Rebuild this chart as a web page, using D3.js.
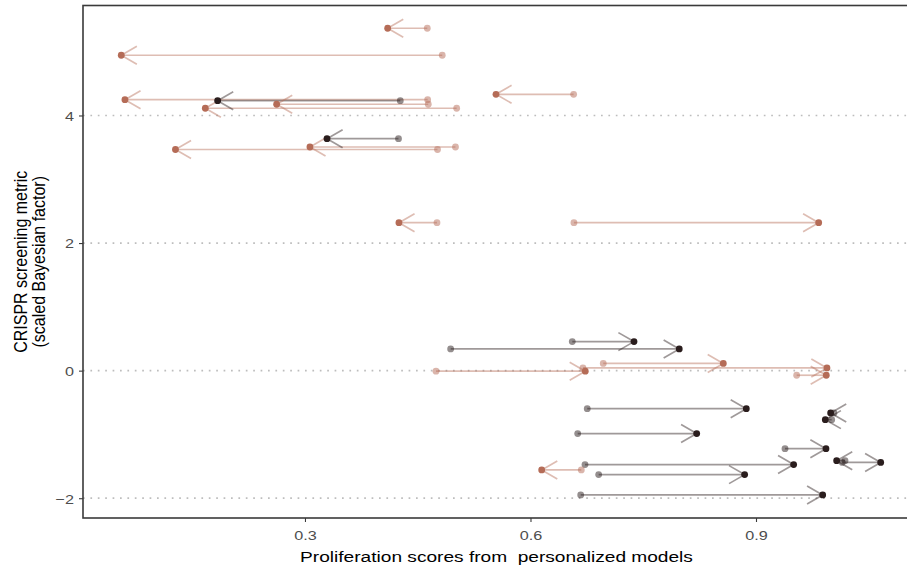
<!DOCTYPE html>
<html>
<head>
<meta charset="utf-8">
<script src="https://cdn.jsdelivr.net/npm/d3@7"></script>
<style>
  body { margin: 0; background: #fff; }
  text { font-family: "Liberation Sans", Arial, sans-serif; }
</style>
</head>
<body>
<div id="chart"></div>
<script>
// proliferation score before (start) and after (end), CRISPR metric, and colour group
var scoreStart = [0.4627, 0.4826, 0.4632, 0.4268, 0.4640, 0.5018, 0.6574, 0.4244, 0.5002, 0.4763,
                  0.4756, 0.6578, 0.6556, 0.4938, 0.4743, 0.6968, 0.6698, 0.9541, 0.6755, 0.6628,
                  1.0037, 1.0007, 0.9386, 0.6725, 1.0148, 1.0184, 0.6676, 0.6907, 0.6668];
var scoreEnd   = [0.4100, 0.0556, 0.0605, 0.1838, 0.2623, 0.1674, 0.5541, 0.3293, 0.3066, 0.1277,
                  0.4250, 0.9834, 0.7377, 0.7979, 0.6729, 0.8565, 0.9944, 0.9935, 0.8871, 0.8211,
                  0.9993, 0.9922, 0.9931, 0.9501, 1.0659, 1.0073, 0.6149, 0.8849, 0.9887];
var crispr     = [5.367, 4.944, 4.248, 4.232, 4.176, 4.113, 4.332, 3.636, 3.506, 3.467,
                  2.320, 2.320, 0.455, 0.340, -0.009, 0.113, 0.042, -0.072, -0.596, -0.987,
                  -0.663, -0.768, -1.223, -1.473, -1.439, -1.411, -1.556, -1.630, -1.948];
var group      = ["b", "b", "b", "k", "b", "b", "b", "k", "b", "b",
                  "b", "b", "k", "k", "b", "b", "b", "b", "k", "k",
                  "k", "k", "k", "k", "k", "k", "b", "k", "k"];
var xTicks = [0.3, 0.6, 0.9];
var yTicks = [-2, 0, 2, 4];

var colors = { b: "#b56c57", k: "#2a1d1d" };

var data = scoreStart.map(function (s, i) {
  return { start: s, end: scoreEnd[i], y: crispr[i], g: group[i] };
});

var W = 907, H = 567,
    margin = { left: 83, top: 5.5, right: -3, bottom: 49 },
    pw = W - margin.left - margin.right,
    ph = H - margin.top - margin.bottom,
    stretch = 1.2;   // text in the reference is drawn a bit wide

var x = d3.scaleLinear().domain([0.0047, 0.0047 + pw / 751.7]).range([0, pw]);
var y = d3.scaleLinear().domain([-2.31, 5.724]).range([ph, 0]);

var svg = d3.select("#chart").append("svg")
    .attr("width", W).attr("height", H);

var g = svg.append("g")
    .attr("transform", "translate(" + margin.left + "," + margin.top + ")");

// dotted horizontal grid
g.selectAll(".grid").data(yTicks).enter().append("line")
    .attr("class", "grid")
    .attr("x1", 0).attr("x2", pw)
    .attr("y1", function (d) { return y(d); })
    .attr("y2", function (d) { return y(d); })
    .attr("stroke", "#bdbdbd")
    .attr("stroke-width", 1.7)
    .attr("stroke-dasharray", "1.7,5.7");

// segments
g.selectAll(".seg").data(data).enter().append("line")
    .attr("class", "seg")
    .attr("x1", function (d) { return x(d.start); })
    .attr("x2", function (d) { return x(d.end); })
    .attr("y1", function (d) { return y(d.y); })
    .attr("y2", function (d) { return y(d.y); })
    .attr("stroke", function (d) { return colors[d.g]; })
    .attr("stroke-opacity", 0.45)
    .attr("stroke-width", 1.7);

// arrow heads
g.selectAll(".head").data(data).enter().append("path")
    .attr("class", "head")
    .attr("d", function (d) {
      var dir = d.end >= d.start ? 1 : -1,
          tx = x(d.end), ty = y(d.y);
      return "M" + (tx - dir * 15.6) + "," + (ty - 9) + "L" + tx + "," + ty +
             "L" + (tx - dir * 15.6) + "," + (ty + 9);
    })
    .attr("fill", "none")
    .attr("stroke", function (d) { return colors[d.g]; })
    .attr("stroke-opacity", 0.45)
    .attr("stroke-width", 1.7);

// start points
g.selectAll(".p0").data(data).enter().append("circle")
    .attr("class", "p0")
    .attr("cx", function (d) { return x(d.start); })
    .attr("cy", function (d) { return y(d.y); })
    .attr("r", 3.4)
    .attr("fill", function (d) { return colors[d.g]; })
    .attr("fill-opacity", 0.5);

// end points
g.selectAll(".p1").data(data).enter().append("circle")
    .attr("class", "p1")
    .attr("cx", function (d) { return x(d.end); })
    .attr("cy", function (d) { return y(d.y); })
    .attr("r", 3.4)
    .attr("fill", function (d) { return colors[d.g]; });

// panel border
g.append("rect")
    .attr("x", 0).attr("y", 0)
    .attr("width", pw).attr("height", ph)
    .attr("fill", "none")
    .attr("stroke", "#3a3a3a")
    .attr("stroke-width", 1.6);

// axes
var xAxis = d3.axisBottom(x).tickValues(xTicks).tickSize(4)
    .tickFormat(d3.format(".1f"));
var yAxis = d3.axisLeft(y).tickValues(yTicks).tickSize(4)
    .tickFormat(function (d) { return d < 0 ? "\u2212" + Math.abs(d) : d; });

var gx = g.append("g").attr("transform", "translate(0," + ph + ")").call(xAxis);
var gy = g.append("g").call(yAxis);
[gx, gy].forEach(function (a) {
  a.attr("font-size", 13.5).attr("font-family", "'Liberation Sans', Arial, sans-serif");
  a.select(".domain").remove();
  a.selectAll(".tick line").attr("stroke", "#3a3a3a").attr("stroke-width", 1.1);
  a.selectAll(".tick text").attr("fill", "#4d4d4d");
});
gx.selectAll(".tick text")
    .attr("y", null).attr("dy", null)
    .attr("transform", "translate(0,21.7) scale(" + stretch + ",1)");
gy.selectAll(".tick text")
    .attr("x", null).attr("dy", "0.36em")
    .attr("transform", "translate(-9,0) scale(" + stretch + ",1)");

// axis titles
svg.append("text")
    .attr("transform", "translate(" + (margin.left + pw / 2) + ",562) scale(1.25,1)")
    .attr("text-anchor", "middle")
    .attr("font-size", 15.3)
    .style("white-space", "pre")
    .attr("fill", "#000")
    .text("Proliferation scores from  personalized models");

var yt = svg.append("text")
    .attr("transform", "translate(26.5," + (margin.top + ph / 2) + ") scale(1.1,1) rotate(-90)")
    .attr("text-anchor", "middle")
    .attr("font-size", 16)
    .attr("fill", "#000");
yt.append("tspan").attr("x", 0).attr("y", 0).text("CRISPR screening metric");
yt.append("tspan").attr("x", 0).attr("y", 16.8).text("(scaled Bayesian factor)");
</script>
</body>
</html>
